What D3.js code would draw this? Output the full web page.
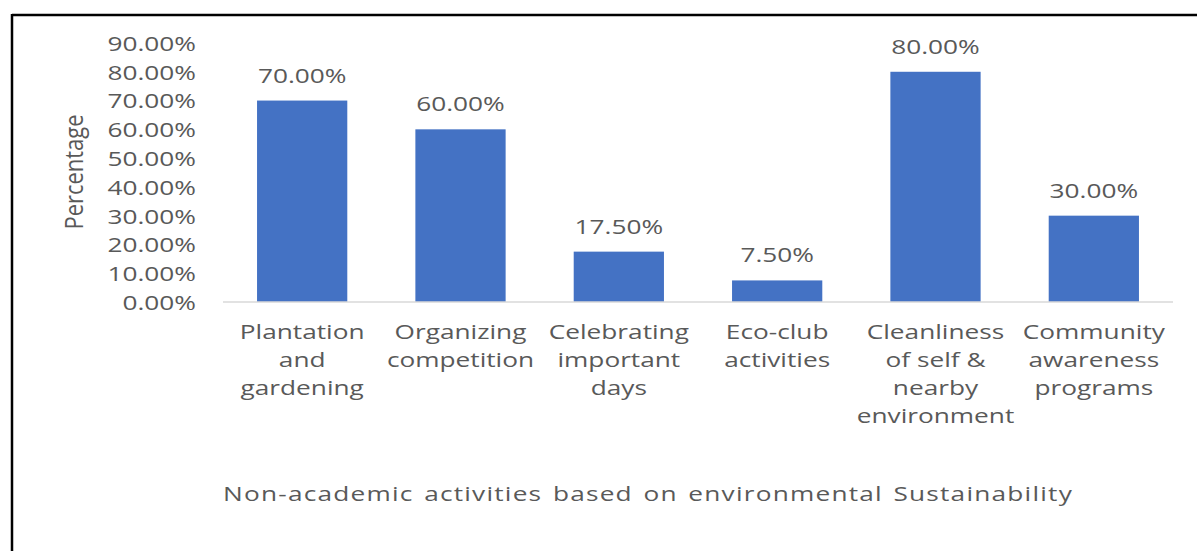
<!DOCTYPE html>
<html>
<head>
<meta charset="utf-8">
<script src="https://cdn.jsdelivr.net/npm/d3@7"></script>
<style>
  html, body { margin: 0; padding: 0; background: #fff; }
  svg { display: block; }
  text { font-family: "Open Sans", "Noto Sans", sans-serif; fill: #595959; }
</style>
</head>
<body>
<svg id="chart" width="1197" height="551"></svg>
<script>
const categories = [
  ["Plantation", "and", "gardening"],
  ["Organizing", "competition"],
  ["Celebrating", "important", "days"],
  ["Eco-club", "activities"],
  ["Cleanliness", "of self &", "nearby", "environment"],
  ["Community", "awareness", "programs"]
];
const values = [70, 60, 17.5, 7.5, 80, 30];
const yTicks = [0, 10, 20, 30, 40, 50, 60, 70, 80, 90];
const yTitle = "Percentage";
const xTitle = "Non-academic activities based on environmental Sustainability";

const svg = d3.select("#chart");
const W = 1197, H = 551;
const mLeft = 223, mRight = 1173, mTop = 43, mBottom = 302;
const fs = 20.5, sx = 1.28;
const font = '"Open Sans", sans-serif';

// frame
svg.append("line").attr("x1", 12).attr("x2", W).attr("y1", 15).attr("y2", 15)
  .attr("stroke", "#000").attr("stroke-width", 2.5);
svg.append("line").attr("x1", 12).attr("x2", 12).attr("y1", 14).attr("y2", H)
  .attr("stroke", "#000").attr("stroke-width", 2.5);

const idx = categories.map((d, i) => i);
const x = d3.scaleBand().domain(idx).range([mLeft, mRight]).paddingInner(0.43).paddingOuter(0.215);
const y = d3.scaleLinear().domain([0, 90]).range([mBottom, mTop]);

// y axis labels
const yAxis = d3.axisLeft(y).tickValues(yTicks).tickSize(0).tickPadding(0)
  .tickFormat(d => d.toFixed(2) + "%");
const gy = svg.append("g").attr("transform", `translate(196,0)`).call(yAxis);
gy.select(".domain").remove();
gy.selectAll("text").attr("font-size", fs).style("font-family", font)
  .attr("fill", "#595959").attr("dy", "0.36em").attr("transform", `scale(${sx},1)`);

// bars
svg.append("g").selectAll("rect").data(values).join("rect")
  .attr("x", (d, i) => x(i)).attr("width", x.bandwidth())
  .attr("y", d => y(d)).attr("height", d => y(0) - y(d))
  .attr("fill", "#4472c4");

// baseline
const xAxis = d3.axisBottom(x).tickSize(0).tickFormat("");
const gx = svg.append("g").attr("transform", `translate(0,${mBottom})`).call(xAxis);
gx.select(".domain").attr("stroke", "#d9d9d9").attr("stroke-width", 1.5).attr("d", `M${mLeft},0H${mRight}`);

// category labels
gx.selectAll(".tick").each(function(i) {
  const t = d3.select(this).append("text").attr("text-anchor", "middle")
    .attr("font-size", fs).style("font-family", font).attr("fill", "#595959")
    .attr("transform", `scale(${sx},1)`);
  categories[i].forEach((line, k) => {
    t.append("tspan").attr("x", 0).attr("y", 37 + k * 28).text(line);
  });
});

// data labels
svg.append("g").selectAll("text").data(values).join("text")
  .attr("transform", (d, i) => `translate(${x(i) + x.bandwidth() / 2},${y(d) - 18}) scale(${sx},1)`)
  .attr("text-anchor", "middle").attr("font-size", fs)
  .text(d => d.toFixed(2) + "%");

// titles
svg.append("text").attr("transform", `translate(83,172) rotate(-90) scale(1.07,${sx})`)
  .attr("text-anchor", "middle").attr("font-size", fs).text(yTitle);
svg.append("text").attr("transform", `translate(648,501) scale(${sx},1)`)
  .attr("text-anchor", "middle").attr("font-size", fs)
  .attr("letter-spacing", 0.95).attr("word-spacing", 2).text(xTitle);
</script>
</body>
</html>
